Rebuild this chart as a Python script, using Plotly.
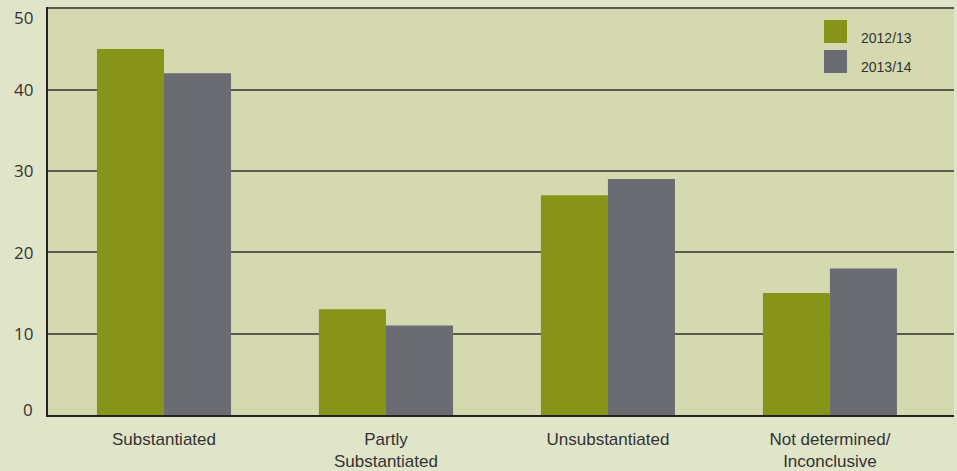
import plotly.graph_objects as go

categories = ["Substantiated", "Partly<br>Substantiated", "Unsubstantiated", "Not determined/<br>Inconclusive"]
series_names = ["2012/13", "2013/14"]
values_2012 = [45, 13, 27, 15]
values_2013 = [42, 11, 29, 18]
y_ticks = [0, 10, 20, 30, 40, 50]

colors = ["#86941a", "#6b6c71"]
W, H = 957, 471
ml, mr, mt, mb = 48, 3, 7, 56
pw, ph = W - ml - mr, H - mt - mb

fig = go.Figure()
for name, vals, col in zip(series_names, [values_2012, values_2013], colors):
    fig.add_trace(go.Bar(x=categories, y=vals, name=name, marker=dict(color=col, line=dict(width=0)),
                         showlegend=False))

# manual legend with large square swatches
def px_to_paper_x(px):
    return (px - ml) / pw

def px_to_paper_y(py):
    return 1 - (py - mt) / ph

legend_rows = [(20, 43, 38), (50, 73, 67)]
for (top, bot, tcy), name, col in zip(legend_rows, series_names, colors):
    fig.add_shape(type="rect", xref="paper", yref="paper",
                  x0=px_to_paper_x(824), x1=px_to_paper_x(847),
                  y0=px_to_paper_y(bot), y1=px_to_paper_y(top),
                  fillcolor=col, line=dict(width=0), layer="above")
    fig.add_annotation(xref="paper", yref="paper", x=px_to_paper_x(859), y=px_to_paper_y(tcy),
                       text=name, showarrow=False, xanchor="left", yanchor="middle",
                       font=dict(family="Liberation Sans, Arial", size=14, color="#333333"))

# y tick labels placed on the y scale (end labels nudged inward as in the original)
for v in y_ticks:
    shift = -9 if v == max(y_ticks) else (6 if v == min(y_ticks) else 0)
    fig.add_annotation(xref="paper", yref="y", x=0, y=v, text=str(v), showarrow=False,
                       xanchor="right", yanchor="middle", xshift=-13, yshift=shift,
                       font=dict(family="Open Sans, Liberation Sans", size=17, color="#333333"))

fig.update_layout(
    width=W, height=H,
    margin=dict(l=ml, r=mr, t=mt, b=mb, pad=0, autoexpand=False),
    paper_bgcolor="#e0e4c9",
    plot_bgcolor="#d4d9b0",
    barmode="group",
    bargap=0.396,
    bargroupgap=0,
    font=dict(family="Liberation Sans, Arial", color="#333333"),
)
fig.update_xaxes(
    type="category",
    range=[-0.5225, 3.559],
    automargin=False,
    showline=True, linecolor="#222222", linewidth=1.5,
    showgrid=False, ticks="", ticklabelstandoff=8,
    tickfont=dict(size=17, color="#333333"),
)
fig.update_yaxes(
    range=[0, 50.15],
    tickvals=y_ticks,
    showticklabels=False,
    automargin=False,
    showline=True, linecolor="#222222", linewidth=1.5,
    showgrid=True, gridcolor="#5a5b4e", gridwidth=1.5,
    zeroline=False, ticks="",
)

fig.write_html("out.html", config={"displayModeBar": False},
               post_script="document.body.style.margin='0';document.body.style.overflow='hidden';")
